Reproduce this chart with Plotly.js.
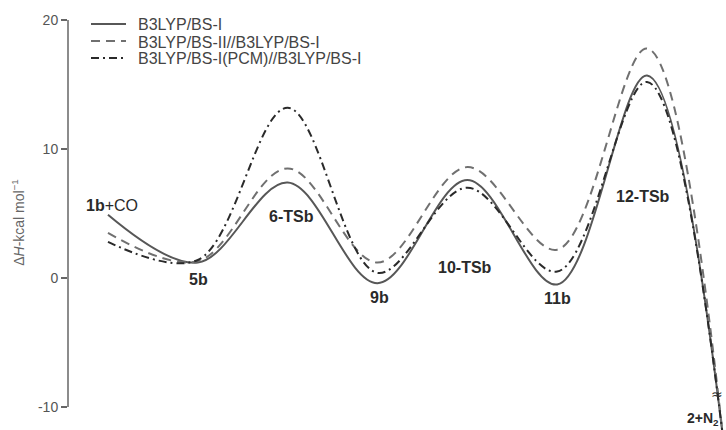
<!DOCTYPE html>
<html>
<head>
<meta charset="utf-8">
<script src="https://cdn.plot.ly/plotly-3.0.1.min.js"></script>
<style>html,body{margin:0;padding:0;background:#fff;}#chart{width:726px;height:430px;}</style>
</head>
<body>
<div id="chart"></div>
<script>
// Reaction coordinate positions of stationary points (last = 2+N2, off-scale below -10)
var stepPos = [0, 1, 2, 3, 4, 5, 6, 6.85];
var stepLabels = ["<b>1b</b>+CO", "<b>5b</b>", "<b>6-TSb</b>", "<b>9b</b>", "<b>10-TSb</b>", "<b>11b</b>", "<b>12-TSb</b>", "<b>2+N<sub>2</sub></b>"];
// ΔH values (kcal/mol)
var solidBS1 = [4.9, 1.2, 7.4, -0.4, 7.6, -0.5, 15.7, -12.6];
var dashedBS2 = [3.5, 1.3, 8.5, 1.2, 8.6, 2.2, 17.8, -12.6];
var dashdotPCM = [2.8, 1.4, 13.2, 0.4, 7.0, 0.5, 15.2, -12.6];
var seriesNames = ["B3LYP/BS-I", "B3LYP/BS-II//B3LYP/BS-I", "B3LYP/BS-I(PCM)//B3LYP/BS-I"];
var yTicks = [20, 10, 0, -10];
var yTickText = ["20", "10", "0", "-10"];

var FONT = "Liberation Sans, Arial, Helvetica, sans-serif";
var styles = [
  {color: "#575757", width: 2, dash: "solid"},
  {color: "#707070", width: 2, dash: "9px,6px"},
  {color: "#2a2a2a", width: 2, dash: "8px,4px,2px,4px"}
];
var seriesData = [solidBS1, dashedBS2, dashdotPCM];

var traces = seriesData.map(function (vals, k) {
  return {x: stepPos, y: vals, name: seriesNames[k], mode: "lines", showlegend: false,
    line: {shape: "spline", smoothing: 1.0, color: styles[k].color, width: styles[k].width, dash: styles[k].dash}};
});

// label placement (y in data units, x shift in px)
var labelY = [5.66, -0.1, 4.8, -1.5, 0.8, -1.6, 6.3, -10.95];
var xShift = [4, 1, 4, 2, -2, 0, -4, 0];
var annotations = [];
for (var i = 0; i < stepPos.length; i++) {
  var a = {x: stepPos[i], y: labelY[i], xref: "x", yref: "y", text: stepLabels[i],
    showarrow: false, xshift: xShift[i], font: {family: FONT, size: 16, color: "#2a2a2a"}};
  if (i === stepPos.length - 1) { a.xanchor = "right"; a.xshift = -2; a.font.size = 14; }
  annotations.push(a);
}
annotations.push({x: stepPos[7], y: -9.0, xref: "x", yref: "y", text: "≈", showarrow: false, xshift: -6,
  font: {family: "DejaVu Sans", size: 14, color: "#333"}});

// manual legend (rows 17 px apart)
var shapes = [{type: "line", xref: "paper", yref: "y", x0: 0, x1: 0, y0: -10, y1: 20,
  line: {color: "#666", width: 1.5}}];
var plotL = 68, plotW = 658, plotT = 15, plotH = 415;
function px2x(p) { return (p - plotL) / plotW; }
function py2y(p) { return 1 - (p - plotT) / plotH; }
var rowY = [24, 41, 58];
for (var k = 0; k < 3; k++) {
  shapes.push({type: "line", xref: "paper", yref: "paper", x0: px2x(91), x1: px2x(126),
    y0: py2y(rowY[k]), y1: py2y(rowY[k]), line: {color: styles[k].color, width: 2, dash: styles[k].dash}});
  annotations.push({xref: "paper", yref: "paper", x: px2x(136), y: py2y(rowY[k] + 1), xanchor: "left", yanchor: "middle",
    text: seriesNames[k], showarrow: false, font: {family: FONT, size: 16, color: "#444"}});
}

var layout = {
  width: 726, height: 430,
  margin: {l: plotL, r: 0, t: plotT, b: 0},
  paper_bgcolor: "#fff", plot_bgcolor: "#fff",
  showlegend: false,
  xaxis: {range: [-0.445, 6.879], visible: false, fixedrange: true},
  yaxis: {range: [-11.78, 20.39], showgrid: false, zeroline: false, showline: false,
    tickvals: yTicks, ticktext: yTickText, ticks: "outside", ticklen: 6, tickcolor: "#666", tickwidth: 1.3,
    tickfont: {family: FONT, size: 14, color: "#555"},
    title: {text: "Δ<i>H</i>-kcal mol<sup>−1</sup>", standoff: 10,
      font: {family: FONT, size: 14, color: "#666"}}},
  shapes: shapes,
  annotations: annotations
};

Plotly.newPlot("chart", traces, layout, {displayModeBar: false, staticPlot: true});
</script>
</body>
</html>
